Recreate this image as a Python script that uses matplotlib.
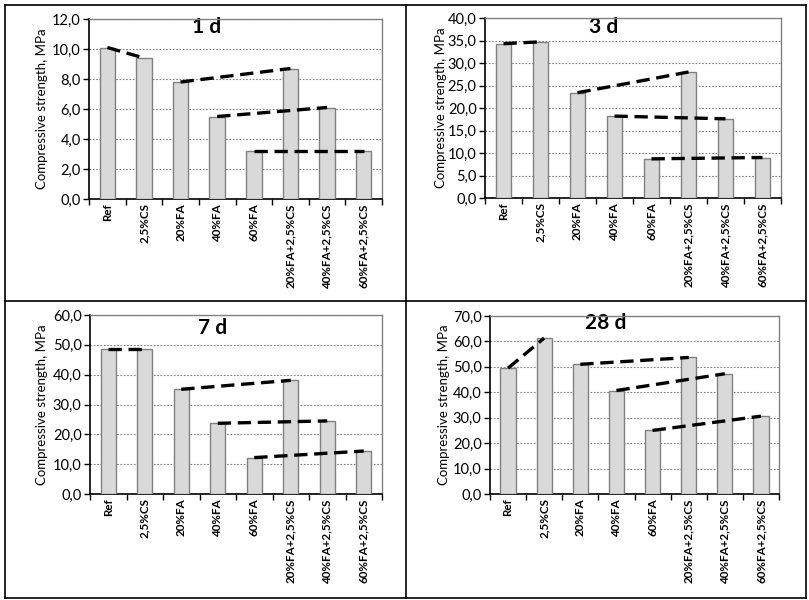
import matplotlib
matplotlib.use("Agg")
import matplotlib.pyplot as plt
from matplotlib.lines import Line2D
from matplotlib.ticker import FuncFormatter, MultipleLocator, FixedLocator

plt.rcParams['font.family'] = ['Lato', 'DejaVu Sans']

categories = ["Ref", "2,5%CS", "20%FA", "40%FA", "60%FA",
              "20%FA+2,5%CS", "40%FA+2,5%CS", "60%FA+2,5%CS"]
strength_1d = [10.1, 9.4, 7.8, 5.5, 3.2, 8.7, 6.1, 3.2]
strength_3d = [34.3, 34.7, 23.4, 18.2, 8.7, 28.0, 17.6, 9.0]
strength_7d = [48.5, 48.5, 35.1, 23.7, 12.2, 38.1, 24.5, 14.4]
strength_28d = [49.5, 61.3, 51.0, 40.7, 25.0, 53.7, 47.3, 30.6]
titles = ["1 d", "3 d", "7 d", "28 d"]
ymax = [12, 40, 60, 70]
ystep = [2, 5, 10, 10]
pairs = [(0, 1), (2, 5), (3, 6), (4, 7)]

W, H = 809, 600
fig = plt.figure(figsize=(W / 100, H / 100), dpi=100)

# axes boxes in pixels: left, right, top, bottom
boxes = [(89, 382, 19, 199), (485, 781, 18, 198),
         (90, 382, 315, 494), (490, 779, 316, 494)]
title_pos = [(0.40, 0.955), (0.40, 0.95), (0.42, 0.925), (0.40, 0.96)]
ylab_x = [42, 441, 42, 444]
series = [strength_1d, strength_3d, strength_7d, strength_28d]

fmt = FuncFormatter(lambda v, p: f"{v:.1f}".replace(".", ","))

for i, (l, r, t, b) in enumerate(boxes):
    ax = fig.add_axes([l / W, 1 - b / H, (r - l) / W, (b - t) / H])
    x = list(range(len(categories)))
    vals = series[i]
    ax.bar(x, vals, width=0.42, color="#D9D9D9", edgecolor="#808080",
           linewidth=1.0, zorder=3)
    for a, c in pairs:
        ax.plot([a, c], [vals[a], vals[c]], color="black", lw=2.4,
                dashes=(4, 2), zorder=4)
    ax.set_xlim(-0.5, 7.5)
    ax.set_ylim(0, ymax[i])
    ax.yaxis.set_major_locator(MultipleLocator(ystep[i]))
    ax.yaxis.set_major_formatter(fmt)
    ax.set_xticks(x)
    ax.set_xticklabels(categories, rotation=90, fontweight="bold", fontsize=8.4)
    ax.xaxis.set_minor_locator(FixedLocator([k - 0.5 for k in range(9)]))
    ax.tick_params(axis="x", which="major", length=0, pad=3)
    ax.tick_params(axis="x", which="minor", length=4, width=1, direction="out", color="black")
    ax.tick_params(axis="y", length=4, width=1, direction="out", labelsize=10.5, pad=2)
    ax.grid(axis="y", color="#808080", linestyle=(0, (1.5, 1.5)), linewidth=0.8, zorder=0)
    for s in ("top", "right"):
        ax.spines[s].set_color("#808080")
        ax.spines[s].set_linewidth(1.0)
    for s in ("left", "bottom"):
        ax.spines[s].set_color("black")
        ax.spines[s].set_linewidth(1.2)
    ax.spines["top"].set_zorder(5)
    ax.text(title_pos[i][0], title_pos[i][1], titles[i], transform=ax.transAxes,
            ha="center", va="center", fontsize=15, fontweight="bold")
    ycen = (t + b) / 2
    fig.text(ylab_x[i] / W, 1 - ycen / H, "Compressive strength, MPa",
             rotation=90, ha="center", va="center", fontsize=9.5)

# table frame
def fline(x0, y0, x1, y1):
    fig.add_artist(Line2D([x0 / W, x1 / W], [1 - y0 / H, 1 - y1 / H],
                          color="black", lw=1.2))

fline(5, 5, 806, 5)
fline(5, 598, 806, 598)
fline(5, 5, 5, 598)
fline(806, 5, 806, 598)
fline(406, 5, 406, 598)
fline(5, 301, 806, 301)

fig.savefig("out.png", dpi=100)
